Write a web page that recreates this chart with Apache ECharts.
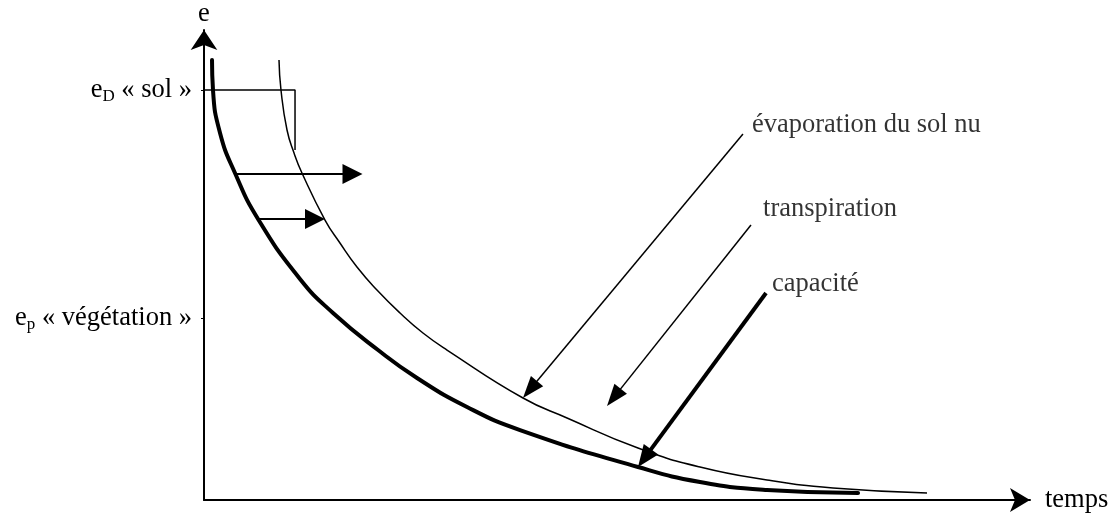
<!DOCTYPE html>
<html>
<head>
<meta charset="utf-8">
<script src="https://cdn.jsdelivr.net/npm/echarts@6/dist/echarts.min.js"></script>
<style>
  html, body { margin: 0; background: #fff; }
  #chart { width: 1112px; height: 515px; }
</style>
</head>
<body>
<div id="chart"></div>
<script>
// courbes (temps, e) en unités arbitraires 0..100
var courbeCapacite = [[0.97, 93.62], [1.09, 87.23], [1.94, 78.09], [3.75, 69.57], [6.54, 59.79],
  [11.62, 47.02], [15.62, 39.79], [21.07, 31.91], [25.79, 25.96], [31.84, 19.79], [38.26, 14.89],
  [52.54, 7.02], [60.05, 3.83], [68.16, 2.13], [79.18, 1.49]]
var courbeTranspiration = [[9.08, 93.62], [9.32, 87.23], [10.05, 78.72], [10.9, 73.83], [11.86, 69.57],
  [14.65, 59.57], [16.46, 54.68], [18.52, 49.57], [20.94, 44.68], [23.73, 39.79],
  [26.51, 35.53], [29.42, 31.91], [38.62, 21.7], [43.95, 17.45], [52.54, 11.06], [60.05, 7.02],
  [68.16, 4.26], [76.15, 2.55], [87.53, 1.49]]
var niveauSol = [[0, 87.23], [11.02, 87.23], [11.02, 74.47]]
var yTicks = [87.23, 38.72]
var yTickLabels = ['{e|e}{s|D}{e| « sol »}', '{e|e}{s|p}{e| « végétation »}']

// flèches : [départ, arrivée]
var flechesH = [[[3.75, 69.36], [17.98, 69.36]], [[6.54, 59.79], [13.44, 59.79]]]
var flechesFines = [[[65.25, 77.87], [39.47, 23.49]], [[66.22, 58.51], [49.62, 21.83]]]
var flecheEpaisse = [[68.04, 44.04], [53.33, 8.91]]
var annotations = [[66.34, 79.79, 'évaporation du sol nu'], [67.68, 61.91, 'transpiration'], [68.77, 45.96, 'capacité']]

var font = 'Liberation Serif'
var fs = 26.5

function arrowData (list) {
  return list.map(function (a) {
    return [{ coord: a[0] }, { coord: a[1] }]
  })
}

var chart = echarts.init(document.getElementById('chart'))
chart.setOption({
  animation: false,
  textStyle: { fontFamily: font, color: '#000' },
  grid: { left: 204, right: 82, top: 30, bottom: 15, outerBoundsMode: 'none' },
  xAxis: {
    type: 'value',
    min: 0,
    max: 100,
    name: 'temps',
    nameGap: 15,
    nameTextStyle: { fontFamily: font, fontSize: fs, color: '#000', verticalAlign: 'middle', padding: [0, 0, 6, 0] },
    axisLine: { lineStyle: { color: '#000', width: 2 }, symbol: ['none', 'arrow'], symbolSize: [18, 20] },
    axisTick: { show: false },
    axisLabel: { show: false },
    splitLine: { show: false }
  },
  yAxis: {
    type: 'value',
    min: 0,
    max: 100,
    name: 'e',
    nameGap: 2,
    nameTextStyle: { fontFamily: font, fontSize: fs, color: '#000' },
    axisLine: { show: true, lineStyle: { color: '#000', width: 2 }, symbol: ['none', 'arrow'], symbolSize: [20, 20] },
    axisTick: { show: true, length: 3, customValues: yTicks, lineStyle: { color: '#000', width: 1 } },
    axisLabel: {
      customValues: yTicks,
      margin: 12,
      formatter: function (v) {
        return v > 60 ? yTickLabels[0] : yTickLabels[1]
      },
      rich: {
        e: { fontFamily: font, fontSize: fs, color: '#000', lineHeight: 30 },
        s: { fontFamily: font, fontSize: 17, color: '#000', lineHeight: 18, verticalAlign: 'bottom' }
      }
    },
    splitLine: { show: false }
  },
  series: [
    {
      type: 'line',
      data: courbeCapacite,
      smooth: 0.5,
      symbol: 'none',
      silent: true,
      lineStyle: { color: '#000', width: 4, join: 'round', cap: 'round' }
    },
    {
      type: 'line',
      data: courbeTranspiration,
      smooth: 0.5,
      symbol: 'none',
      silent: true,
      lineStyle: { color: '#000', width: 1.5, join: 'round' }
    },
    {
      type: 'line',
      data: niveauSol,
      symbol: 'none',
      silent: true,
      lineStyle: { color: '#000', width: 1.5 },
      markLine: {
        silent: true,
        symbol: ['none', 'triangle'],
        symbolSize: [20, 20],
        label: { show: false },
        lineStyle: { color: '#000', width: 2, type: 'solid' },
        data: arrowData(flechesH)
      }
    },
    {
      type: 'line',
      data: [],
      silent: true,
      markLine: {
        silent: true,
        symbol: ['none', 'triangle'],
        symbolSize: [16, 22],
        label: { show: false },
        lineStyle: { color: '#000', width: 1.5, type: 'solid' },
        data: arrowData(flechesFines)
      }
    },
    {
      type: 'line',
      data: [],
      silent: true,
      markLine: {
        silent: true,
        symbol: ['none', 'triangle'],
        symbolSize: [18, 22],
        label: { show: false },
        lineStyle: { color: '#000', width: 4, type: 'solid' },
        data: arrowData([flecheEpaisse])
      }
    },
    {
      type: 'scatter',
      data: annotations,
      symbolSize: 0,
      silent: true,
      label: {
        show: true,
        position: 'right',
        distance: 0,
        fontFamily: font,
        fontSize: fs,
        color: '#000',
        formatter: function (p) { return p.value[2] }
      }
    }
  ]
})
</script>
</body>
</html>
